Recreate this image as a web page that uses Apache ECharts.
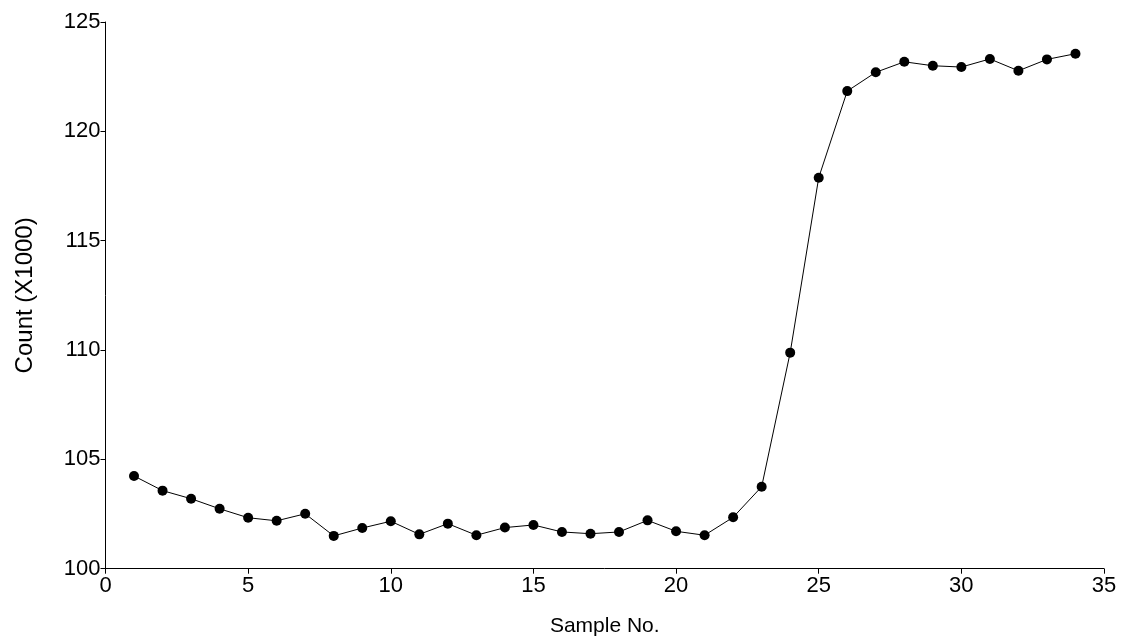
<!DOCTYPE html>
<html>
<head>
<meta charset="utf-8">
<script src="https://cdn.jsdelivr.net/npm/echarts@6/dist/echarts.min.js"></script>
<style>html,body{margin:0;padding:0;background:#fff}#c{width:1122px;height:642px}</style>
</head>
<body>
<div id="c"></div>
<script>
const sampleNo = [1,2,3,4,5,6,7,8,9,10,11,12,13,14,15,16,17,18,19,20,21,22,23,24,25,26,27,28,29,30,31,32,33,34];
const counts = [104.24,103.57,103.20,102.74,102.33,102.19,102.51,101.50,101.86,102.17,
  101.57,102.06,101.53,101.88,102.00,101.68,101.60,101.68,102.21,101.71,
  101.53,102.35,103.75,109.88,117.88,121.84,122.70,123.18,123.00,122.94,
  123.31,122.77,123.29,123.55];
const xTitle = 'Sample No.';
const yTitle = 'Count (X1000)';

const chart = echarts.init(document.getElementById('c'));
const font = 'Liberation Sans, Arial, sans-serif';
chart.setOption({
  backgroundColor: '#fff',
  animation: false,
  grid: {left: 105.5, right: 18, top: 22, bottom: 73.3},
  xAxis: {
    type: 'value', min: 0, max: 35, interval: 5,
    name: xTitle, nameLocation: 'middle', nameGap: 47,
    nameTextStyle: {color: '#000', fontSize: 21, fontFamily: font},
    axisLine: {show: true, onZero: false, lineStyle: {color: '#000', width: 1}},
    axisTick: {show: true, length: 5, lineStyle: {color: '#000'}},
    axisLabel: {color: '#000', fontSize: 22, fontFamily: font, margin: 6},
    splitLine: {show: false}
  },
  yAxis: {
    type: 'value', min: 100, max: 125, interval: 5,
    name: yTitle, nameLocation: 'middle', nameGap: 68,
    nameTextStyle: {color: '#000', fontSize: 24, fontFamily: font},
    axisLine: {show: true, lineStyle: {color: '#000', width: 1}},
    axisTick: {show: true, length: 5, lineStyle: {color: '#000'}},
    axisLabel: {color: '#000', fontSize: 22, fontFamily: font, margin: 5},
    splitLine: {show: false}
  },
  series: [{
    type: 'line',
    data: sampleNo.map((x, i) => [x, counts[i]]),
    symbol: 'circle', symbolSize: 10,
    itemStyle: {color: '#000'},
    lineStyle: {color: '#000', width: 1}
  }]
});
</script>
</body>
</html>
